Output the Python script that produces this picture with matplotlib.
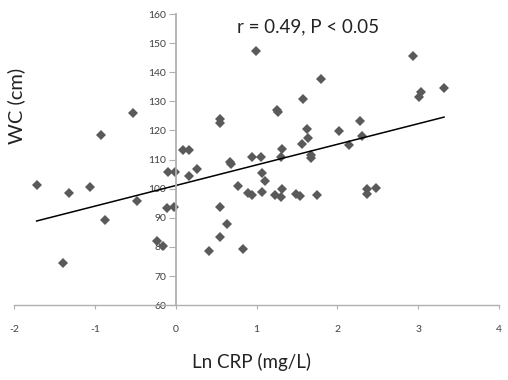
import numpy as np
import matplotlib
matplotlib.use("Agg")
import matplotlib.pyplot as plt

# Ln CRP (mg/L) vs waist circumference (cm)
ln_crp = [-1.72, -1.32, -1.40, -1.06, -0.93, -0.88, -0.53, -0.48, -0.23, -0.16,
          -0.10, -0.01, -0.11, -0.02, 0.09, 0.17, 0.17, 0.26, 0.55, 0.55,
          0.67, 0.68, 0.77, 0.94, 0.99, 0.41, 0.55, 0.55, 0.64, 0.83,
          0.90, 0.94, 1.05, 1.07, 1.10, 1.07, 1.30, 1.32, 1.23, 1.30,
          1.32, 1.49, 1.54, 1.75, 1.56, 1.67, 1.68, 2.14, 2.37, 2.37,
          2.48, 2.94, 3.32, 3.04, 3.01, 1.80, 1.58, 1.25, 1.27, 2.28,
          1.62, 1.64, 2.02, 2.31]
wc = [101.2, 98.5, 74.6, 100.6, 118.4, 89.2, 126.0, 95.7, 82.0, 80.3,
      105.7, 105.7, 93.3, 93.7, 113.3, 113.3, 104.3, 106.7, 123.9, 122.5,
      109.3, 108.6, 100.9, 110.9, 147.3, 78.6, 83.4, 93.7, 87.8, 79.2,
      98.5, 97.8, 110.9, 105.4, 102.6, 98.8, 110.9, 113.6, 97.8, 97.1,
      99.9, 98.1, 97.5, 97.8, 115.3, 111.5, 110.5, 115.0, 99.9, 98.1,
      100.2, 145.6, 134.6, 133.2, 131.5, 137.7, 130.8, 127.0, 126.5, 123.2,
      120.5, 117.4, 119.8, 118.1]
x_ticks = [-2, -1, 0, 1, 2, 3, 4]
y_ticks = [60, 70, 80, 90, 100, 110, 120, 130, 140, 150, 160]
annotation = "r = 0.49, P < 0.05"

plt.rcParams["font.family"] = ["Lato", "DejaVu Sans"]

x = np.array(ln_crp)
y = np.array(wc)
slope, intercept = np.polyfit(x, y, 1)

fig = plt.figure(figsize=(5.08, 3.8), dpi=100)
ax = fig.add_axes([0.0276, 0.197, 0.9547, 0.766])

ax.plot(x, y, linestyle="none", marker="D", markersize=4.6,
        color="#5a5a5a", markeredgewidth=0)
xl = np.array([x.min(), x.max()])
ax.plot(xl, slope * xl + intercept, color="black", lw=1.1)

ax.set_xlim(-2, 4)
ax.set_ylim(60, 160)
ax.set_xticks(x_ticks)
ax.set_yticks(y_ticks)
ax.set_xticklabels([str(t) for t in x_ticks])
ax.set_yticklabels([str(t) for t in y_ticks])

# Excel style: value axis crosses at x = 0
ax.spines["left"].set_position(("data", 0))
ax.spines["right"].set_visible(False)
ax.spines["top"].set_visible(False)
ax.spines["left"].set_color("#b0b0b0")
ax.spines["left"].set_linewidth(1.3)
ax.spines["bottom"].set_color("#b0b0b0")
ax.spines["bottom"].set_linewidth(1.0)
ax.tick_params(axis="y", direction="out", length=5, color="#b0b0b0",
               labelsize=7.5, labelcolor="#404040", pad=2)
ax.tick_params(axis="x", direction="out", length=3, color="#b0b0b0",
               labelsize=7.5, labelcolor="#404040", pad=11)

ax.text(0.459, 0.955, annotation, transform=ax.transAxes, fontsize=13.5,
        color="#222222", va="center", ha="left")
fig.text(0.031, 0.721, "WC (cm)", rotation=90, fontsize=14.5,
         color="#222222", ha="center", va="center")
fig.text(0.495, 0.047, "Ln CRP (mg/L)", fontsize=13.5,
         color="#222222", ha="center", va="center")

fig.savefig("out.png", dpi=100)
